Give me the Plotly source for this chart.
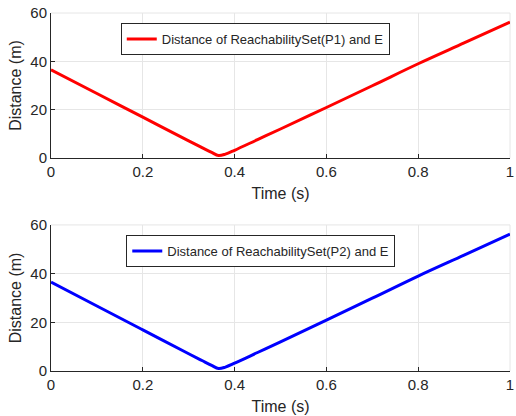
import plotly.graph_objects as go

time_s = [0, 0.1, 0.2, 0.3, 0.33, 0.35, 0.365, 0.38, 0.40, 0.45, 0.5, 0.6, 0.7, 0.8, 0.9, 1.0]
dist_p1 = [36.5, 26.7, 16.9, 7.1, 4.2, 2.3, 1.0, 1.6, 3.2, 7.6, 12.0, 20.9, 29.9, 39.0, 47.6, 56.2]
dist_p2 = [36.5, 26.7, 16.9, 7.1, 4.2, 2.3, 1.0, 1.6, 3.2, 7.6, 12.0, 20.9, 29.9, 39.0, 47.6, 56.2]
name_p1 = "Distance of ReachabilitySet(P1) and E"
name_p2 = "Distance of ReachabilitySet(P2) and E"
x_ticks = [0, 0.2, 0.4, 0.6, 0.8, 1]
y_ticks = [0, 20, 40, 60]

fig = go.Figure()
fig.add_trace(go.Scatter(x=time_s, y=dist_p1, mode="lines", name=name_p1,
                         line=dict(color="#FF0000", width=3, shape="spline"),
                         xaxis="x", yaxis="y", legend="legend"))
fig.add_trace(go.Scatter(x=time_s, y=dist_p2, mode="lines", name=name_p2,
                         line=dict(color="#0000FF", width=3, shape="spline"),
                         xaxis="x2", yaxis="y2", legend="legend2"))

font = dict(family="Liberation Sans, Arial, sans-serif", color="#262626")
axis_common = dict(showgrid=True, gridcolor="#E6E6E6", gridwidth=1,
                   showline=True, linecolor="#262626", linewidth=1,
                   ticks="inside", ticklen=4, tickcolor="#262626",
                   tickfont=dict(size=15, **font), zeroline=False,
                   mirror=False, ticklabeloverflow="allow")

fig.update_layout(
    width=516, height=416,
    margin=dict(l=51, r=2, t=13, b=45),
    paper_bgcolor="white", plot_bgcolor="white",
    font=font,
    xaxis=dict(domain=[0, 1], range=[0, 1], tickvals=x_ticks, anchor="y",
               title=dict(text="Time (s)", font=dict(size=16, **font), standoff=8), **axis_common),
    yaxis=dict(domain=[0.595, 1], range=[0, 60], tickvals=y_ticks, anchor="x",
               title=dict(text="Distance (m)", font=dict(size=16, **font), standoff=4), **axis_common),
    xaxis2=dict(domain=[0, 1], range=[0, 1], tickvals=x_ticks, anchor="y2",
                title=dict(text="Time (s)", font=dict(size=16, **font), standoff=8), **axis_common),
    yaxis2=dict(domain=[0, 0.408], range=[0, 60], tickvals=y_ticks, anchor="x2",
                title=dict(text="Distance (m)", font=dict(size=16, **font), standoff=4), **axis_common),
    legend=dict(x=0.152, y=0.972, xanchor="left", yanchor="top",
                bgcolor="white", bordercolor="#262626", borderwidth=1,
                font=dict(size=13, **font)),
    legend2=dict(x=0.164, y=0.380, xanchor="left", yanchor="top",
                 bgcolor="white", bordercolor="#262626", borderwidth=1,
                 font=dict(size=13, **font)),
    showlegend=True,
)

# light top/right box edges (MATLAB-like)
for xa, ya in [("x", "y"), ("x2", "y2")]:
    fig.add_shape(type="line", xref=f"{xa} domain", yref=f"{ya} domain",
                  x0=0, x1=1, y0=1, y1=1, line=dict(color="#E6E6E6", width=1), layer="below")
    fig.add_shape(type="line", xref=f"{xa} domain", yref=f"{ya} domain",
                  x0=1, x1=1, y0=0, y1=1, line=dict(color="#E6E6E6", width=1), layer="below")

fig.write_html("out.html", config={"displayModeBar": False},
               post_script="document.body.style.margin='0';document.body.style.overflow='hidden';")
